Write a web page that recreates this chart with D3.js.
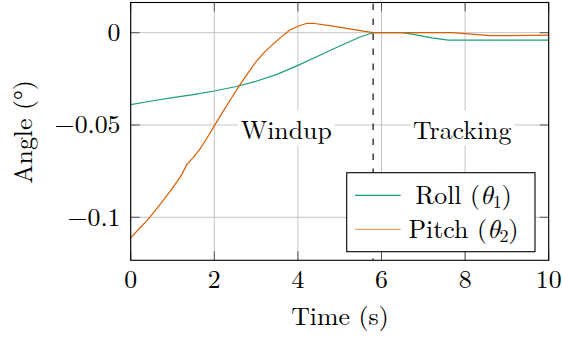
<!DOCTYPE html>
<html><head><meta charset="utf-8">
<script src="https://cdn.jsdelivr.net/npm/d3@7"></script>
<style>
html,body{margin:0;padding:0;background:#fff;}
</style></head>
<body>
<svg id="chart" width="562" height="337"></svg>
<script>
const rollTime  = [0,0.5,1,1.5,2,2.5,3,3.5,4,4.5,5,5.5,5.8,6.5,6.8,7.2,7.6,10];
const rollValue = [-0.039,-0.037,-0.0352,-0.0335,-0.0316,-0.0293,-0.0263,-0.0226,-0.0177,-0.0125,-0.0072,-0.0022,0,0,-0.001,-0.0028,-0.004,-0.004];
const pitchTime  = [0,0.2,0.4,0.6,0.8,1.0,1.2,1.35,1.5,1.65,1.8,2.0,2.2,2.4,2.6,2.8,3.0,3.2,3.4,3.6,3.8,4.0,4.2,4.4,4.8,5.2,5.6,5.8,6.0,7.7,8.6,9.0,9.6,10];
const pitchValue = [-0.1112,-0.1062,-0.1015,-0.096,-0.0902,-0.0842,-0.0777,-0.0712,-0.0675,-0.0632,-0.058,-0.0505,-0.043,-0.0358,-0.0287,-0.022,-0.0157,-0.0105,-0.0063,-0.0024,0.0013,0.0035,0.005,0.005,0.0037,0.0022,0.0007,0,0,0,-0.0016,-0.0016,-0.0015,-0.0013];
const xTicks = [0,2,4,6,8,10];
const yTicks = [0,-0.05,-0.1];
const yTickLabels = ["0","\u22120.05","\u22120.1"];
const seriesNames = ["Roll","Pitch"];
const seriesSubs = ["1","2"];
const colors = ["#1b9e77","#d95f02"];
const phaseLabels = ["Windup","Tracking"];
const phaseX = [3.72,7.93];
const switchTime = 5.8;

const FONT = "Latin Modern Roman";
const MATH = "Latin Modern Math";
const svg = d3.select("#chart");
const L=130.7, R=548.7, T=2.5, B=260.3;
const x = d3.scaleLinear().domain([0,10]).range([L,R]);
const y = d3.scaleLinear().domain([-0.1233,0.01636]).range([B,T]);
const FS = 25.8;
const txt = (sel)=>sel.append("text").style("font-family",FONT).attr("font-size",FS).attr("fill","#000");

const g = svg.append("g");
g.selectAll(".gx").data(xTicks).enter().append("line")
  .attr("x1",d=>x(d)).attr("x2",d=>x(d)).attr("y1",T).attr("y2",B)
  .attr("stroke","#c4c4c4").attr("stroke-width",1);
g.selectAll(".gy").data(yTicks).enter().append("line")
  .attr("x1",L).attr("x2",R).attr("y1",d=>y(d)).attr("y2",d=>y(d))
  .attr("stroke","#c4c4c4").attr("stroke-width",1);

const TL = 9;
xTicks.forEach(d=>{
  g.append("line").attr("x1",x(d)).attr("x2",x(d)).attr("y1",B).attr("y2",B-TL).attr("stroke","#555").attr("stroke-width",1);
  g.append("line").attr("x1",x(d)).attr("x2",x(d)).attr("y1",T).attr("y2",T+TL).attr("stroke","#555").attr("stroke-width",1);
});
yTicks.forEach(d=>{
  g.append("line").attr("x1",L).attr("x2",L+TL).attr("y1",y(d)).attr("y2",y(d)).attr("stroke","#555").attr("stroke-width",1);
  g.append("line").attr("x1",R).attr("x2",R-TL).attr("y1",y(d)).attr("y2",y(d)).attr("stroke","#555").attr("stroke-width",1);
});

phaseLabels.forEach((t,i)=>{
  const tx = txt(svg).attr("x",x(phaseX[i])).attr("y",138.5).attr("text-anchor","middle").text(t);
  const bb = tx.node().getBBox();
  svg.insert("rect","text").attr("x",bb.x-3).attr("y",bb.y+1).attr("width",bb.width+6).attr("height",bb.height-1).attr("fill","#fff");
});

const line = d3.line().x(d=>x(d[0])).y(d=>y(d[1]));
const rollData = rollTime.map((t,i)=>[t,rollValue[i]]);
const pitchData = pitchTime.map((t,i)=>[t,pitchValue[i]]);
[rollData,pitchData].forEach((data,i)=>{
  svg.append("path").datum(data).attr("d",line).attr("fill","none")
    .attr("stroke",colors[i]).attr("stroke-width",1.2).attr("stroke-linejoin","round");
});

svg.append("line").attr("x1",x(switchTime)).attr("x2",x(switchTime)).attr("y1",T+1).attr("y2",B)
  .attr("stroke","#222").attr("stroke-width",1.3).attr("stroke-dasharray","6.5,8.5");

svg.append("rect").attr("x",L).attr("y",T).attr("width",R-L).attr("height",B-T)
  .attr("fill","none").attr("stroke","#000").attr("stroke-width",1.1);

xTicks.forEach(d=>{
  txt(svg).attr("x",x(d)).attr("y",287.5).attr("text-anchor","middle").text(d);
});
yTicks.forEach((d,i)=>{
  txt(svg).attr("x",120.5).attr("y",y(d)+8.5).attr("text-anchor","end").text(yTickLabels[i]);
});

txt(svg).attr("x",340).attr("y",325).attr("text-anchor","middle").text("Time (s)");
txt(svg).attr("transform","translate(32,132) rotate(-90)").attr("text-anchor","middle").text("Angle (\u00b0)");

const lg = svg.append("g");
lg.append("rect").attr("x",346.7).attr("y",172.7).attr("width",188.3).attr("height",79)
  .attr("fill","#fff").attr("stroke","#000").attr("stroke-width",1.1);
const ly = [195.3,229.3];
seriesNames.forEach((n,i)=>{
  lg.append("line").attr("x1",355).attr("x2",400.7).attr("y1",ly[i]).attr("y2",ly[i])
    .attr("stroke",colors[i]).attr("stroke-width",1.2).attr("stroke-opacity",i===1?0.6:1);
  const t = txt(lg).attr("x",463.5).attr("y",ly[i]+8.5).attr("text-anchor","middle");
  t.append("tspan").text(n+" (");
  t.append("tspan").style("font-family",MATH).style("font-style","italic").text("\u03b8");
  t.append("tspan").attr("font-size",18).attr("dy",4).text(seriesSubs[i]);
  t.append("tspan").attr("dy",-4).text(")");
});
</script>
</body></html>
